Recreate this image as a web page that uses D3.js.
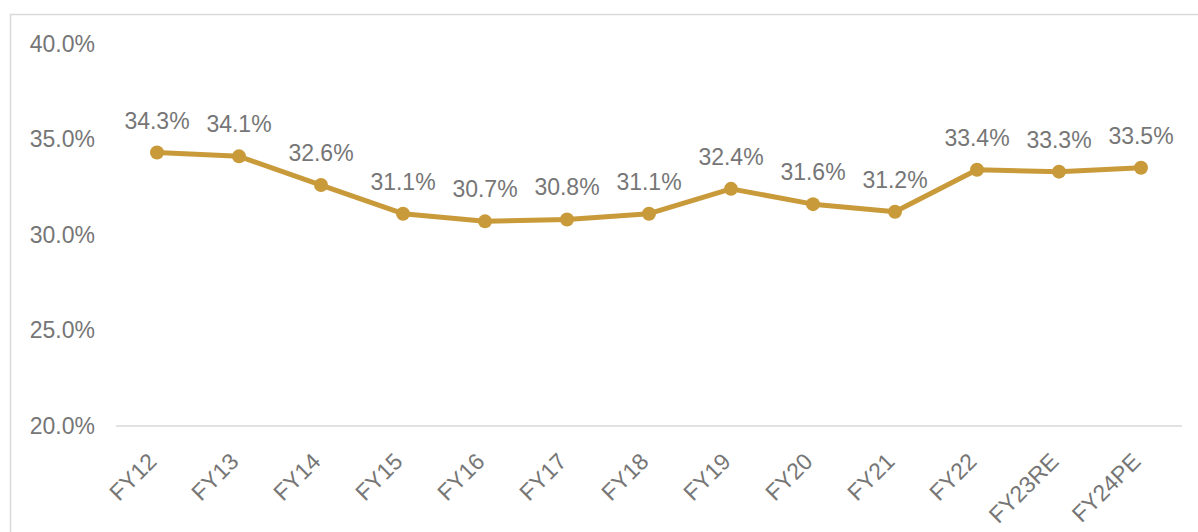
<!DOCTYPE html>
<html><head><meta charset="utf-8">
<script src="https://cdn.jsdelivr.net/npm/d3@7"></script>
<style>body{margin:0;background:#fff;}svg{display:block;font-family:"Liberation Sans",Arial,sans-serif;}</style>
</head><body>
<script>
const categories = ["FY12","FY13","FY14","FY15","FY16","FY17","FY18","FY19","FY20","FY21","FY22","FY23RE","FY24PE"];
const values = [34.3,34.1,32.6,31.1,30.7,30.8,31.1,32.4,31.6,31.2,33.4,33.3,33.5];
const yTicks = [20,25,30,35,40];

const W = 1198, H = 532;
const FS = 23;
const svg = d3.select("body").append("svg").attr("width", W).attr("height", H);
svg.append("rect").attr("x",10.5).attr("y",14.5).attr("width",W+20).attr("height",H+20)
  .attr("fill","none").attr("stroke","#d9d9d9").attr("stroke-width",1.5);

const x = d3.scaleBand().domain(categories).range([116,1182]);
const y = d3.scaleLinear().domain([20,40]).range([426,43.5]);
const color = "#C99A3A";

// y labels
svg.append("g").selectAll("text").data(yTicks).join("text")
  .attr("x",95).attr("y",d=>y(d)).attr("dy","0.35em").attr("text-anchor","end")
  .attr("font-size",FS).attr("fill","#767676").text(d=>d.toFixed(1)+"%");

// baseline
svg.append("line").attr("x1",116).attr("x2",1182).attr("y1",y(20)).attr("y2",y(20))
  .attr("stroke","#d9d9d9").attr("stroke-width",1.5);

// x labels
svg.append("g").selectAll("text").data(categories).join("text")
  .attr("text-anchor","end").attr("font-size",FS).attr("fill","#767676")
  .attr("transform",d=>`translate(${x(d)+x.bandwidth()/2+1},${463}) rotate(-45)`)
  .text(d=>d);

const cx = d=>x(d)+x.bandwidth()/2;
const line = d3.line().x((d,i)=>cx(categories[i])).y(d=>y(d));
svg.append("path").datum(values).attr("d",line).attr("fill","none")
  .attr("stroke",color).attr("stroke-width",5).attr("stroke-linejoin","round");
svg.append("g").selectAll("circle").data(values).join("circle")
  .attr("cx",(d,i)=>cx(categories[i])).attr("cy",d=>y(d)).attr("r",7).attr("fill",color);
svg.append("g").selectAll("text").data(values).join("text")
  .attr("x",(d,i)=>cx(categories[i])).attr("y",d=>y(d)-24).attr("text-anchor","middle")
  .attr("font-size",FS).attr("fill","#767676").text(d=>d.toFixed(1)+"%");
</script>
</body></html>
